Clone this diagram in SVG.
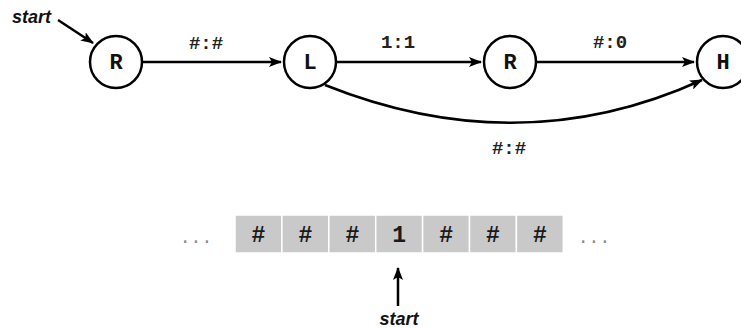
<svg xmlns="http://www.w3.org/2000/svg" width="741" height="328" viewBox="0 0 741 328">
<defs>
<marker id="ah" viewBox="0 0 13 10" refX="12" refY="5" markerWidth="13" markerHeight="10" markerUnits="userSpaceOnUse" orient="auto">
<path d="M0,0 L13,5 L0,10 L3,5 Z" fill="#000"/>
</marker>
<style>
.node circle{fill:#fff;stroke:#000;stroke-width:2.5}
.nl{font-family:"Liberation Mono","Courier New",monospace;font-weight:bold;font-size:22px;text-anchor:middle;fill:#111}
.el{font-family:"Liberation Mono","Courier New",monospace;font-weight:bold;font-size:19px;text-anchor:middle;fill:#222}
.conn path,.conn line{fill:none;stroke:#000;stroke-width:2.5;marker-end:url(#ah)}
.start{font-family:"Liberation Sans",Arial,sans-serif;font-weight:bold;font-style:italic;font-size:18px;fill:#111}
.cell{fill:#c9c9c9;stroke:#fff;stroke-width:1.5}
.tc{font-family:"Liberation Mono","Courier New",monospace;font-weight:bold;font-size:23px;text-anchor:middle;fill:#1a1a1a}
.dots{font-family:"Liberation Mono","Courier New",monospace;font-size:18px;text-anchor:middle;fill:#8a8a8a}
</style>
</defs>
<rect width="741" height="328" fill="#fff"/>
<g class="conn">
<line x1="58" y1="20" x2="93" y2="43"/>
<line x1="142" y1="62" x2="281" y2="62"/>
<line x1="336" y1="62" x2="481" y2="62"/>
<line x1="536" y1="62" x2="694" y2="62"/>
<path d="M325,85 Q520,163 702,80"/>
<line x1="398" y1="306" x2="398" y2="268"/>
</g>
<g class="labels">
<text class="el" x="206" y="49">#:#</text>
<text class="el" x="398" y="48">1:1</text>
<text class="el" x="610" y="48">#:0</text>
<text class="el" x="509" y="154">#:#</text>
</g>
<g id="n1" class="node"><circle cx="116" cy="62" r="26"/><text class="nl" x="116" y="69">R</text></g>
<g id="n2" class="node"><circle cx="310" cy="62" r="26"/><text class="nl" x="310" y="69">L</text></g>
<g id="n3" class="node"><circle cx="510" cy="62" r="26"/><text class="nl" x="510" y="69">R</text></g>
<g id="n4" class="node"><circle cx="723" cy="62" r="26"/><text class="nl" x="723" y="69">H</text></g>
<text class="start" x="12" y="23">start</text>
<g id="tape">
<rect class="cell" x="235" y="215" width="46.9" height="38"/>
<rect class="cell" x="281.9" y="215" width="46.9" height="38"/>
<rect class="cell" x="328.8" y="215" width="46.9" height="38"/>
<rect class="cell" x="375.7" y="215" width="46.9" height="38"/>
<rect class="cell" x="422.6" y="215" width="46.9" height="38"/>
<rect class="cell" x="469.5" y="215" width="46.9" height="38"/>
<rect class="cell" x="516.4" y="215" width="46.9" height="38"/>
<text class="tc" x="258.5" y="242">#</text>
<text class="tc" x="305.4" y="242">#</text>
<text class="tc" x="352.3" y="242">#</text>
<text class="tc" x="399.2" y="242">1</text>
<text class="tc" x="446.1" y="242">#</text>
<text class="tc" x="493" y="242">#</text>
<text class="tc" x="539.9" y="242">#</text>
<text class="dots" x="196" y="243">...</text>
<text class="dots" x="594" y="243">...</text>
</g>
<text class="start" x="399" y="325" text-anchor="middle">start</text>
</svg>
